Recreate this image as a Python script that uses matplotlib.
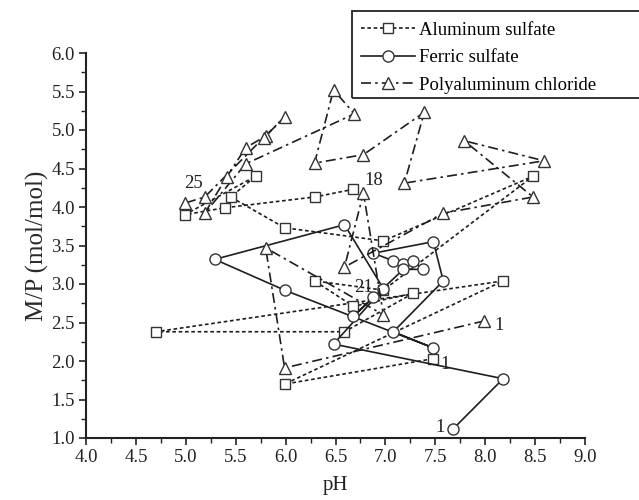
import matplotlib
matplotlib.use("Agg")
import matplotlib.pyplot as plt
from matplotlib.ticker import MultipleLocator, FormatStrFormatter
from matplotlib.patches import Rectangle

plt.rcParams['font.family'] = ['Liberation Serif', 'DejaVu Serif']

# Aluminum sulfate (in sampling order)
alum_ph = [7.48, 5.99, 8.18, 4.70, 6.59, 7.28, 6.68, 6.29, 6.98, 8.48, 6.98, 5.99, 5.45, 5.70, 4.99, 5.39, 6.29, 6.68]
alum_mp = [2.03, 1.70, 3.04, 2.38, 2.38, 2.88, 2.71, 3.04, 2.92, 4.40, 3.56, 3.73, 4.13, 4.40, 3.90, 3.99, 4.13, 4.23]

# Ferric sulfate
ferric_ph = [7.68, 8.18, 6.48, 6.98, 6.59, 5.29, 5.99, 7.48, 7.08, 7.58, 7.48, 6.88, 7.08, 7.18, 7.28, 7.38, 7.18, 6.68, 6.88]
ferric_mp = [1.12, 1.77, 2.22, 2.94, 3.77, 3.32, 2.92, 2.17, 2.38, 3.04, 3.55, 3.40, 3.30, 3.26, 3.30, 3.19, 3.19, 2.58, 2.83]

# Polyaluminum chloride
pac_ph = [7.99, 5.99, 5.80, 6.98, 6.78, 6.59, 7.58, 8.48, 7.79, 8.59, 7.19, 7.39, 6.78, 6.29, 6.48, 6.69,
          5.60, 5.19, 5.41, 5.60, 5.80, 5.99, 5.78, 5.19, 4.99]
pac_mp = [2.52, 1.91, 3.47, 2.60, 4.18, 3.22, 3.92, 4.13, 4.86, 4.60, 4.31, 5.23, 4.68, 4.57, 5.52, 5.21,
          4.56, 3.92, 4.39, 4.77, 4.92, 5.17, 4.90, 4.13, 4.05]

series_names = ["Aluminum sulfate", "Ferric sulfate", "Polyaluminum chloride"]

annotations = [("25", 5.08, 4.31), ("18", 6.88, 4.35), ("21", 6.78, 2.96),
               ("1", 8.14, 2.46), ("1", 7.60, 1.95), ("1", 7.55, 1.14)]

fig = plt.figure(figsize=(6.39, 5.0), dpi=100)
ax = fig.add_axes([86/639, 1-438/500, (585-86)/639, (438-53)/500])

ec = '#1e1e1e'
lw = 1.2
ax.plot(alum_ph, alum_mp, linestyle=(0, (2.2, 1.6)), color=ec, lw=lw, marker='s',
        markersize=7, markerfacecolor='white', markeredgecolor='#333333', markeredgewidth=1.0,
        label=series_names[0], zorder=3)
ax.plot(ferric_ph, ferric_mp, linestyle='-', color=ec, lw=lw, marker='o',
        markersize=8, markerfacecolor='white', markeredgecolor='#333333', markeredgewidth=1.0,
        label=series_names[1], zorder=3)
ax.plot(pac_ph, pac_mp, linestyle=(0, (6, 2.5, 1.5, 2.5)), color=ec, lw=lw, marker='^',
        markersize=9, markerfacecolor='white', markeredgecolor='#333333', markeredgewidth=1.0,
        label=series_names[2], zorder=3)

for txt, x, y in annotations:
    ax.text(x, y, txt, fontsize=13.5, ha='center', va='center', color='#222222', zorder=4)

ax.set_xlim(4.0, 9.0)
ax.set_ylim(1.0, 6.0)
ax.xaxis.set_major_locator(MultipleLocator(0.5))
ax.xaxis.set_minor_locator(MultipleLocator(0.25))
ax.yaxis.set_major_locator(MultipleLocator(0.5))
ax.yaxis.set_minor_locator(MultipleLocator(0.25))
ax.xaxis.set_major_formatter(FormatStrFormatter('%.1f'))
ax.yaxis.set_major_formatter(FormatStrFormatter('%.1f'))
ax.tick_params(which='major', direction='out', length=5, width=1.2, labelsize=13.5,
               colors='#222222', pad=3)
ax.tick_params(which='minor', direction='out', length=3.5, width=1.0, colors='#222222')
for s in ['top', 'right']:
    ax.spines[s].set_visible(False)
for s in ['left', 'bottom']:
    ax.spines[s].set_linewidth(1.5)
    ax.spines[s].set_color('#222222')

ax.set_xlabel('pH', fontsize=15, labelpad=7, color='#222222')
ax.set_ylabel('M/P (mol/mol)', fontsize=18, labelpad=2, color='#2a2a2a')

leg = fig.legend(loc='upper left', bbox_to_anchor=(359/639, 1-20/500), fontsize=13.5,
                 frameon=False, handlelength=2.9, labelspacing=0.55, borderpad=0.1,
                 handletextpad=0.2, borderaxespad=0)
box = Rectangle((352/639, 1-98/500), (660-352)/639, (98-11)/500, transform=fig.transFigure,
                fill=False, edgecolor='#222222', linewidth=1.3, clip_on=False, zorder=5)
fig.add_artist(box)

fig.savefig('out.png', dpi=100)
